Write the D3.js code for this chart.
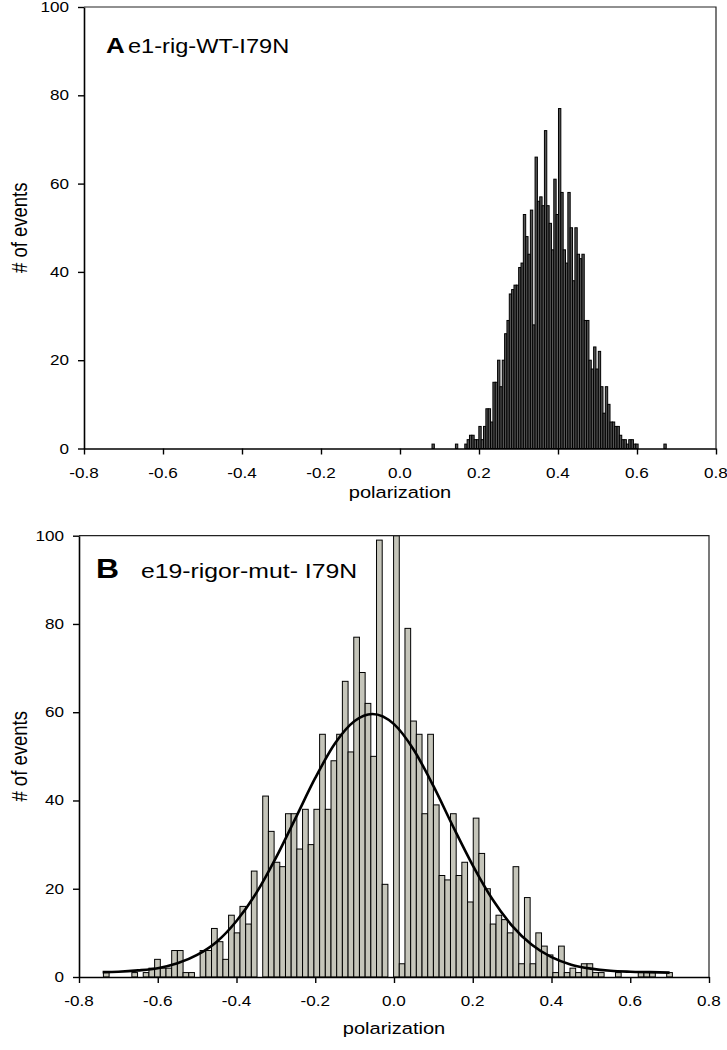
<!DOCTYPE html>
<html><head><meta charset="utf-8">
<script src="https://cdn.jsdelivr.net/npm/d3@7"></script>
<style>body{margin:0;background:#fff}svg{display:block}</style>
</head><body><svg id="c" width="727" height="1050"></svg>
<script>
// ---- data ----
const xTicks = [-0.8, -0.6, -0.4, -0.2, 0.0, 0.2, 0.4, 0.6, 0.8];
const yTicks = [0, 20, 40, 60, 80, 100];
const xTitle = "polarization";
const yTitle = "# of events";

// Panel A histogram (100 bins)
const binStartA = 0.081, binWidthA = 0.00593;
const countsA = [
  1,0,0,0,0,0,0,0,0,0, 1,0,0,0,1,2,3,3,2,2,
  5,2,5,9,9,6,15,15,20,14, 20,26,29,35,36,37,37,41,42,53,
  48,44,54,28,66,56,57,55,72,55, 51,45,61,53,77,58,45,42,58,50,
  38,50,44,43,44,29,29,20,18,23, 18,22,14,8,14,10,6,6,5,5,
  3,2,2,1,2,2,1,1,0,0, 0,0,0,0,0,0,0,0,0,1
];
// Panel B histogram (100 bins)
const binStartB = -0.738, binWidthB = 0.01445;
const countsB = [
  1,0,0,0,0,1,0,1,2,4, 2,2,6,6,1,1,0,6,6,11,
  8,4,14,10,16,12,24,0,41,33, 26,25,37,37,29,38,30,38,55,38,
  49,55,67,51,77,69,62,50,99,21, 0,100,3,79,58,55,37,55,39,23,
  22,37,23,26,17,36,28,20,12,14, 13,10,25,3,18,3,10,7,5,1,
  7,1,2,1,3,3,1,1,0,0, 1,0,0,0,1,1,1,0,0,1
];
// Fitted curve in panel B
const fitX = [-0.74,-0.70,-0.65,-0.60,-0.55,-0.50,-0.45,-0.40,-0.35,-0.30,-0.25,-0.20,-0.15,-0.10,-0.055,0.0,0.05,0.10,0.15,0.20,0.25,0.30,0.35,0.40,0.45,0.50,0.55,0.60,0.65,0.70];
const fitY = [1.1,1.2,1.5,2.0,3.1,5.0,8.0,12.7,19.0,27.0,36.0,45.1,52.9,58.0,59.6,57.3,51.5,43.3,34.1,25.3,17.6,11.6,7.3,4.5,2.8,1.9,1.4,1.2,1.1,1.0];

const labelA = ["A", "e1-rig-WT-I79N"];
const labelB = ["B", "e19-rigor-mut- I79N"];

// ---- drawing ----
const svg = d3.select("#c");
const SX = 1.18;
const FONT = "'Liberation Sans', Arial, Helvetica, sans-serif";

function txt(g, x, y, s, size, anchor, weight, rot) {
  const tr = rot ? `translate(${x},${y}) rotate(-90) scale(1,${SX})` : `translate(${x},${y}) scale(${SX},1)`;
  return g.append("text").attr("transform", tr)
    .attr("text-anchor", anchor || "start")
    .style("font-family", FONT).style("font-size", size + "px")
    .style("font-weight", weight || "normal").attr("fill", "#000").text(s);
}

function panel(cfg) {
  const g = svg.append("g");
  const x = d3.scaleLinear().domain([-0.8, 0.8]).range([cfg.left, cfg.right]);
  const y = d3.scaleLinear().domain([0, 100]).range([cfg.bottom, cfg.top]);

  // bars
  const bins = cfg.counts.map((c, i) => ({x0: cfg.start + i * cfg.width, x1: cfg.start + (i + 1) * cfg.width, c}))
    .filter(d => d.c > 0);
  g.append("g").selectAll("rect").data(bins).join("rect")
    .attr("x", d => x(d.x0)).attr("width", d => x(d.x1) - x(d.x0))
    .attr("y", d => y(Math.min(d.c, 100))).attr("height", d => y(0) - y(Math.min(d.c, 100)))
    .attr("fill", cfg.fill).attr("stroke", "#000").attr("stroke-width", cfg.sw);

  // frame (top/right)
  g.append("path").attr("d", `M${cfg.left},${cfg.top}H${cfg.right}V${cfg.bottom}`)
    .attr("fill", "none").attr("stroke", "#222").attr("stroke-width", 1.2);

  // axes
  const xa = g.append("g").attr("transform", `translate(0,${cfg.bottom})`)
    .call(d3.axisBottom(x).tickValues(xTicks).tickSize(6).tickSizeOuter(0).tickFormat(""));
  const ya = g.append("g").attr("transform", `translate(${cfg.left},0)`)
    .call(d3.axisLeft(y).tickValues(yTicks).tickSize(6).tickSizeOuter(0).tickFormat(""));
  [xa, ya].forEach(a => {
    a.select(".domain").attr("stroke", "#000").attr("stroke-width", 1.6);
    a.selectAll(".tick line").attr("stroke", "#000").attr("stroke-width", 1.4);
  });

  xTicks.forEach(v => txt(g, x(v), cfg.bottom + 29, v.toFixed(1), 14.5, "middle"));
  yTicks.forEach(v => txt(g, cfg.left - 15, y(v) + 5, String(v), 14.5, "end"));

  txt(g, (cfg.left + cfg.right) / 2, cfg.bottom + cfg.xtOff, xTitle, 17, "middle");
  txt(g, 27, (cfg.top + cfg.bottom) / 2, yTitle, 18.5, "middle", "normal", true);

  // panel label
  txt(g, cfg.lab.x1, cfg.lab.y, cfg.label[0], cfg.lab.s1, "start", "bold");
  txt(g, cfg.lab.x2, cfg.lab.y, cfg.label[1], cfg.lab.s2, "start");

  if (cfg.fit) {
    const line = d3.line().x((d, i) => x(fitX[i])).y(d => y(d)).curve(d3.curveMonotoneX);
    g.append("path").attr("d", line(fitY)).attr("fill", "none")
      .attr("stroke", "#000").attr("stroke-width", 2.6);
  }
}

panel({left: 84, right: 716, top: 7, bottom: 448.5, counts: countsA, start: binStartA, width: binWidthA,
  fill: "#555555", sw: 1, label: labelA, xtOff: 49, lab: {x1: 106, x2: 128, y: 53, s1: 22, s2: 20}});
panel({left: 79, right: 709, top: 535.7, bottom: 977, counts: countsB, start: binStartB, width: binWidthB,
  fill: "#c5c5ba", sw: 1, label: labelB, xtOff: 57, lab: {x1: 96, x2: 141, y: 578, s1: 27, s2: 21}, fit: true});
</script>
</body></html>
